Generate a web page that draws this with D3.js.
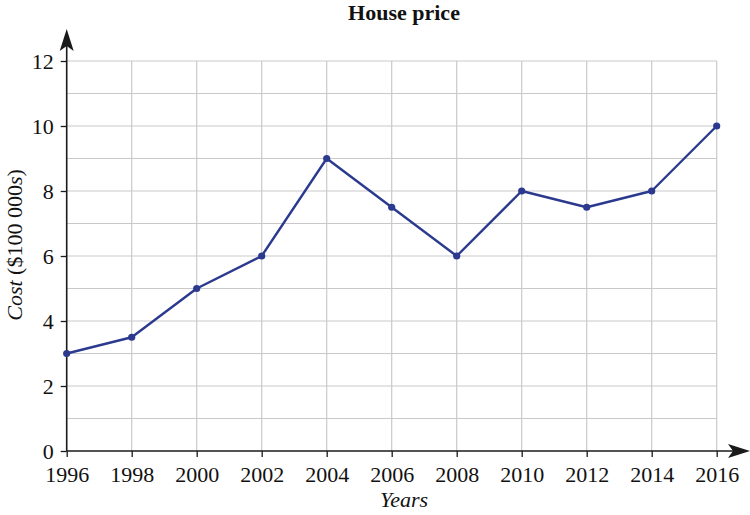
<!DOCTYPE html>
<html><head><meta charset="utf-8">
<script src="https://cdn.jsdelivr.net/npm/d3@7"></script>
<style>body{margin:0;background:#fff}svg{display:block}text{font-family:"Liberation Serif","Times New Roman",serif;fill:#111}</style>
</head><body><svg id="c" width="750" height="515"></svg>
<script>
const years = [1996,1998,2000,2002,2004,2006,2008,2010,2012,2014,2016];
const costs = [3,3.5,5,6,9,7.5,6,8,7.5,8,10];
const yTicks = [0,2,4,6,8,10,12];
const yGrid = [1,2,3,4,5,6,7,8,9,10,11,12];
const title = "House price";

const svg = d3.select("#c");
const x = d3.scaleLinear().domain([1996,2016]).range([66.7,716.7]);
const y = d3.scaleLinear().domain([0,12]).range([451,61]);
const axisColor = "#1a1a1a";
const grid = svg.append("g");
grid.selectAll("line.h").data(yGrid).join("line")
  .attr("x1",x(1996)).attr("x2",x(2016)).attr("y1",d=>y(d)).attr("y2",d=>y(d))
  .attr("stroke","#c9c9c9").attr("stroke-width",1.2);
grid.selectAll("line.v").data(years.slice(1)).join("line")
  .attr("x1",d=>x(d)).attr("x2",d=>x(d)).attr("y1",y(0)).attr("y2",y(12))
  .attr("stroke","#c9c9c9").attr("stroke-width",1.2);

// axes
const xAxis = d3.axisBottom(x).tickValues(years).tickFormat(d3.format("d")).tickSize(6).tickSizeOuter(0);
const gx = svg.append("g").attr("transform",`translate(0,${y(0)})`).call(xAxis)
  .attr("font-family",null).attr("font-size",null);
gx.select(".domain").remove();
gx.selectAll(".tick line").attr("stroke",axisColor).attr("stroke-width",1.3);
gx.selectAll(".tick text").attr("font-size",22).attr("dy",0).attr("y",31).attr("fill","#111");

const yAxis = d3.axisLeft(y).tickValues(yTicks).tickSize(6).tickSizeOuter(0);
const gy = svg.append("g").attr("transform",`translate(${x(1996)},0)`).call(yAxis)
  .attr("font-family",null).attr("font-size",null);
gy.select(".domain").remove();
gy.selectAll(".tick line").attr("stroke",axisColor).attr("stroke-width",1.3);
gy.selectAll(".tick text").attr("font-size",22).attr("dy","0.33em").attr("x",-13).attr("fill","#111");

// axis lines with arrows
svg.append("line").attr("x1",x(1996)).attr("x2",735).attr("y1",y(0)).attr("y2",y(0))
  .attr("stroke",axisColor).attr("stroke-width",1.6);
svg.append("path").attr("d",`M750,${y(0)} L728,${y(0)-7} L733,${y(0)} L728,${y(0)+7} Z`).attr("fill",axisColor);
svg.append("line").attr("x1",x(1996)).attr("x2",x(1996)).attr("y1",y(0)).attr("y2",45)
  .attr("stroke",axisColor).attr("stroke-width",1.6);
svg.append("path").attr("d",`M${x(1996)},29 L${x(1996)-7},51 L${x(1996)},46 L${x(1996)+7},51 Z`).attr("fill",axisColor);

// line
const col = "#2b3a8e";
svg.append("path").datum(years.map((d,i)=>[d,costs[i]]))
  .attr("d",d3.line().x(d=>x(d[0])).y(d=>y(d[1])))
  .attr("fill","none").attr("stroke",col).attr("stroke-width",2.4).attr("stroke-linejoin","round");
svg.selectAll("circle.pt").data(years.map((d,i)=>[d,costs[i]])).join("circle")
  .attr("cx",d=>x(d[0])).attr("cy",d=>y(d[1])).attr("r",3.6).attr("fill",col);

// title
svg.append("text").attr("x",404).attr("y",20).attr("text-anchor","middle")
  .attr("font-size",22).attr("font-weight","bold").text(title);

// x label
svg.append("text").attr("x",404).attr("y",507).attr("text-anchor","middle")
  .attr("font-size",22).attr("font-style","italic").text("Years");

// y label
const yl = svg.append("text").attr("transform","translate(22,245) rotate(-90)").attr("text-anchor","middle").attr("font-size",22);
yl.append("tspan").attr("font-style","italic").text("Cost");
yl.append("tspan").text(" ($100 000");
yl.append("tspan").attr("font-style","italic").text("s");
yl.append("tspan").text(")");
</script></body></html>
